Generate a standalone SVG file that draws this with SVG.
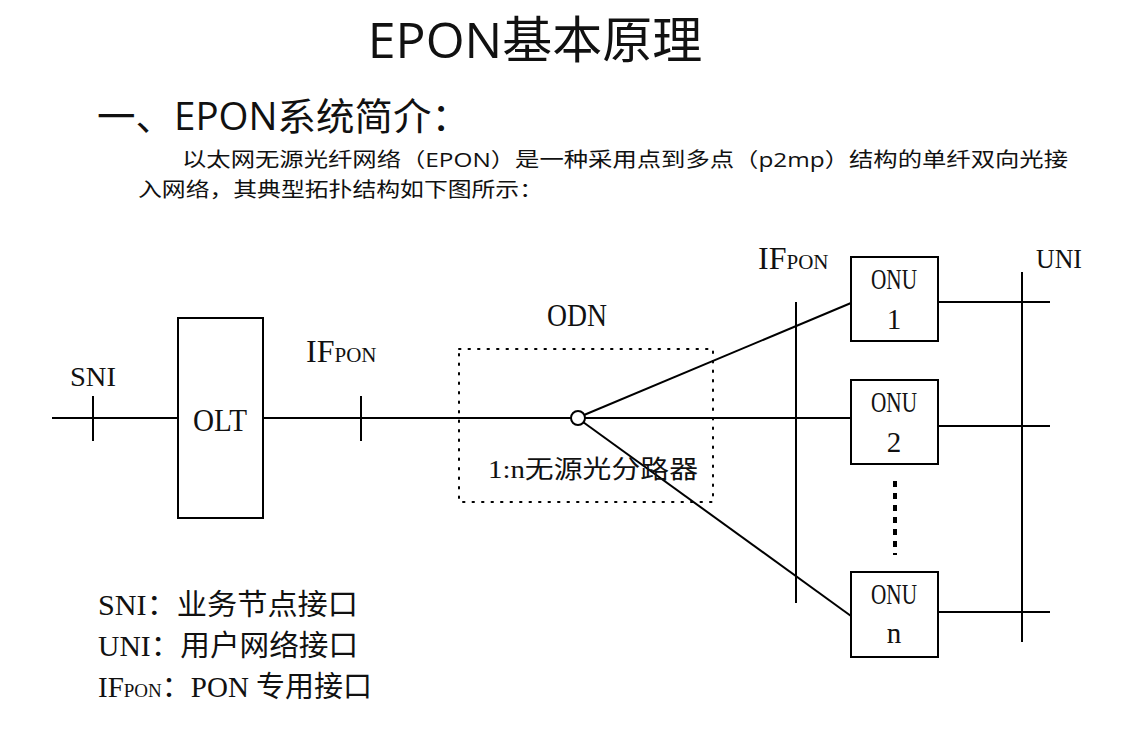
<svg xmlns="http://www.w3.org/2000/svg" width="1130" height="746" viewBox="0 0 1130 746">
<style>
.ln{stroke:#000;stroke-width:2;fill:none}
.bx{stroke:#000;stroke-width:2;fill:#fff}
.s{font-family:"Liberation Serif","Noto Sans CJK SC",serif;fill:#111}
.h{font-family:"Open Sans","Noto Sans CJK SC",sans-serif;fill:#111}
</style>
<rect width="1130" height="746" fill="#fff"/>
<text class="h" x="535" y="58" font-size="50" text-anchor="middle">EPON基本原理</text>
<text class="h" x="97" y="130" font-size="38" textLength="373" lengthAdjust="spacingAndGlyphs">一、EPON系统简介：</text>
<text class="h" x="182" y="167" font-size="20" textLength="886" lengthAdjust="spacingAndGlyphs">以太网无源光纤网络（EPON）是一种采用点到多点（p2mp）结构的单纤双向光接</text>
<text class="h" x="138" y="197" font-size="20" textLength="405" lengthAdjust="spacingAndGlyphs">入网络，其典型拓扑结构如下图所示：</text>
<g id="connectors">
<line class="ln" x1="52" y1="418" x2="571" y2="418"/>
<line class="ln" x1="93" y1="396" x2="93" y2="441"/>
<line class="ln" x1="361" y1="396" x2="361" y2="441"/>
<line class="ln" x1="584" y1="418" x2="851" y2="418"/>
<line class="ln" x1="584" y1="415" x2="851" y2="303"/>
<line class="ln" x1="583" y1="422" x2="851" y2="616"/>
<line class="ln" x1="796" y1="302" x2="796" y2="603"/>
<line class="ln" x1="1022" y1="272" x2="1022" y2="642"/>
<line class="ln" x1="938" y1="302" x2="1050" y2="302"/>
<line class="ln" x1="938" y1="426" x2="1050" y2="426"/>
<line class="ln" x1="938" y1="612" x2="1050" y2="612"/>
<line x1="895" y1="481" x2="895" y2="555" stroke="#000" stroke-width="4" stroke-dasharray="6,6"/>
</g>
<g id="odn">
<rect x="459" y="349" width="254" height="153" fill="none" stroke="#000" stroke-width="2" stroke-dasharray="1.5,8" stroke-linecap="round"/>
<text class="s" x="577" y="326" font-size="32" text-anchor="middle" textLength="60" lengthAdjust="spacingAndGlyphs">ODN</text>
<text class="s" x="488" y="478" font-size="25" textLength="210" lengthAdjust="spacingAndGlyphs">1:n无源光分路器</text>
</g>
<g id="splitter"><circle class="bx" cx="578" cy="418" r="7"/></g>
<g id="olt"><rect class="bx" x="178" y="318" width="85" height="200"/><text class="s" x="220" y="431" font-size="32" text-anchor="middle" textLength="54" lengthAdjust="spacingAndGlyphs">OLT</text></g>
<g id="onu1"><rect class="bx" x="851" y="257" width="87" height="84"/><text class="s" x="894" y="289" font-size="29" text-anchor="middle" textLength="46" lengthAdjust="spacingAndGlyphs">ONU</text><text class="s" x="894" y="329" font-size="29" text-anchor="middle">1</text></g>
<g id="onu2"><rect class="bx" x="851" y="380" width="87" height="84"/><text class="s" x="894" y="412" font-size="29" text-anchor="middle" textLength="46" lengthAdjust="spacingAndGlyphs">ONU</text><text class="s" x="894" y="452" font-size="29" text-anchor="middle">2</text></g>
<g id="onun"><rect class="bx" x="851" y="572" width="87" height="85"/><text class="s" x="894" y="604" font-size="29" text-anchor="middle" textLength="46" lengthAdjust="spacingAndGlyphs">ONU</text><text class="s" x="894" y="643" font-size="29" text-anchor="middle">n</text></g>
<g id="labels">
<text class="s" x="70" y="386" font-size="27" textLength="46" lengthAdjust="spacingAndGlyphs">SNI</text>
<text class="s" x="306" y="362" font-size="32">IF<tspan font-size="21">PON</tspan></text>
<text class="s" x="758" y="269" font-size="32">IF<tspan font-size="21">PON</tspan></text>
<text class="s" x="1036" y="268" font-size="27" fill="#444" textLength="46" lengthAdjust="spacingAndGlyphs">UNI</text>
<text class="s" x="98" y="615" font-size="29" textLength="260" lengthAdjust="spacingAndGlyphs">SNI：业务节点接口</text>
<text class="s" x="98" y="656" font-size="29" textLength="260" lengthAdjust="spacingAndGlyphs">UNI：用户网络接口</text>
<text class="s" x="98" y="697" font-size="29">IF<tspan font-size="19">PON</tspan>：PON 专用接口</text>
</g>
</svg>
